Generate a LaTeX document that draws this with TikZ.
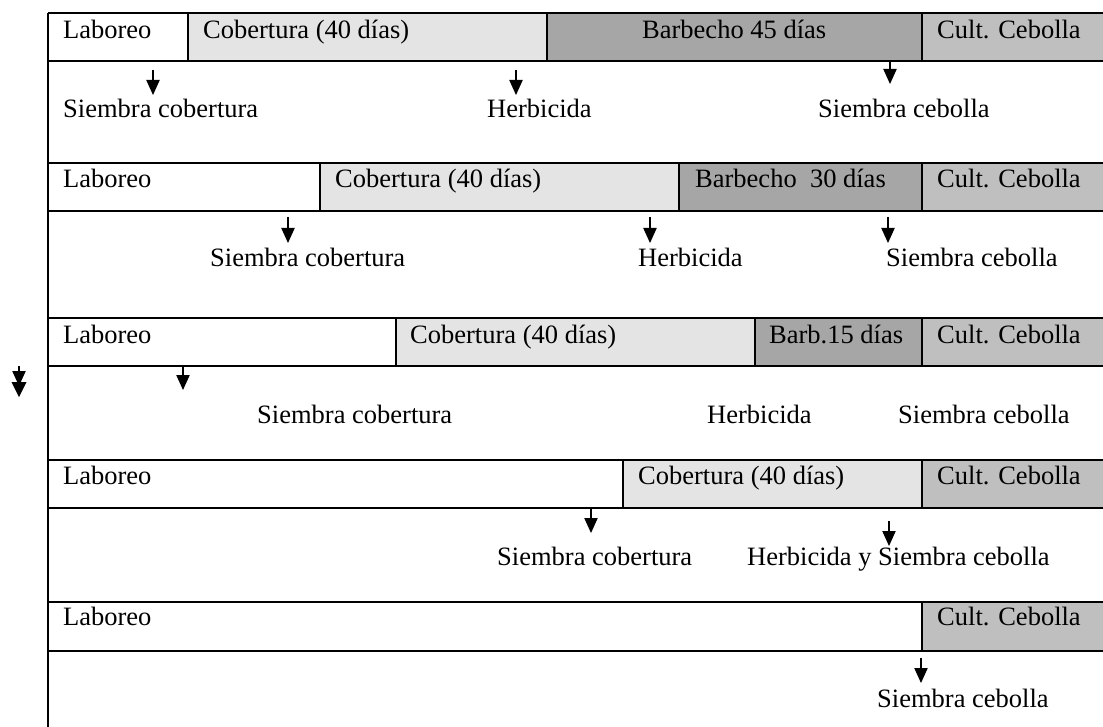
\documentclass[tikz,border=0pt]{standalone}
\usepackage{fontspec}
\setmainfont{Liberation Serif}
\definecolor{cob}{gray}{0.895}
\definecolor{barb}{gray}{0.65}
\definecolor{cult}{gray}{0.75}
\tikzset{
  lbl/.style={anchor=base west,inner sep=0pt,font=\fontsize{26.5}{30}\selectfont},
  rule/.style={line width=2.8pt},
  sep/.style={line width=2.3pt},
  stem/.style={line width=2.2pt},
}
\newcommand\vArr[4]{%
  \coordinate (#1s) at (#2,#3);
  \coordinate (#1e) at (#2,#4);
  \draw[stem] (#1s) -- ([yshift=14pt]#1e);
  \fill ([yshift=15pt,xshift=-6.8pt]#1e) -- ([yshift=15pt,xshift=6.8pt]#1e) -- (#1e) -- cycle;}
\begin{document}
\begin{tikzpicture}[x=1pt,y=-1pt]
\useasboundingbox (0,0) rectangle (1103,727);
% fills
\fill[cob]  (188,13) rectangle (547,61);
\fill[barb] (547,13) rectangle (922,61);
\fill[cult] (922,13) rectangle (1103,61);
\fill[cob]  (320,163) rectangle (679,211);
\fill[barb] (679,163) rectangle (922,211);
\fill[cult] (922,163) rectangle (1103,211);
\fill[cob]  (396,318) rectangle (755,366);
\fill[barb] (755,318) rectangle (922,366);
\fill[cult] (922,318) rectangle (1103,366);
\fill[cob]  (623,460) rectangle (922,508);
\fill[cult] (922,460) rectangle (1103,508);
\fill[cult] (922,602) rectangle (1103,651);
% horizontal rules
\foreach \y in {13,61,163,211,318,366,460,508,602,651}
  \draw[rule] (48,\y) -- (1103,\y);
% left border
\draw[rule] (48,13) -- (48,727);
% separators
\foreach \x/\a/\b in {188/13/61,547/13/61,922/13/61,
  320/163/211,679/163/211,922/163/211,
  396/318/366,755/318/366,922/318/366,
  623/460/508,922/460/508,922/602/651}
  \draw[sep] (\x,\a) -- (\x,\b);
% row 1
\node[lbl] (l1)  at (63,39) {Laboreo};
\node[lbl] (c1)  at (203,39) {Cobertura (40 días)};
\node[lbl] (b1)  at (642,39) {Barbecho 45 días};
\node[lbl] (k1)  at (937,39) {Cult. Cebolla};
\node[lbl] (sc1) at (63,118) {Siembra cobertura};
\node[lbl] (h1)  at (487,118) {Herbicida};
\node[lbl] (se1) at (818,118) {Siembra cebolla};
% row 2
\node[lbl] (l2)  at (63,188) {Laboreo};
\node[lbl] (c2)  at (335,188) {Cobertura (40 días)};
\node[lbl] (b2)  at (695,188) {Barbecho\ \ 30 días};
\node[lbl] (k2)  at (937,188) {Cult. Cebolla};
\node[lbl] (sc2) at (210,267) {Siembra cobertura};
\node[lbl] (h2)  at (638,267) {Herbicida};
\node[lbl] (se2) at (886,267) {Siembra cebolla};
% row 3
\node[lbl] (l3)  at (63,343) {Laboreo};
\node[lbl] (c3)  at (410,343) {Cobertura (40 días)};
\node[lbl] (b3)  at (769,343) {Barb.15 días};
\node[lbl] (k3)  at (937,343) {Cult. Cebolla};
\node[lbl] (sc3) at (257,423) {Siembra cobertura};
\node[lbl] (h3)  at (707,423) {Herbicida};
\node[lbl] (se3) at (898,423) {Siembra cebolla};
% row 4
\node[lbl] (l4)  at (63,484) {Laboreo};
\node[lbl] (c4)  at (638,484) {Cobertura (40 días)};
\node[lbl] (k4)  at (937,484) {Cult. Cebolla};
\node[lbl] (sc4) at (497,565) {Siembra cobertura};
\node[lbl] (hs4) at (747,565) {Herbicida y Siembra cebolla};
% row 5
\node[lbl] (l5)  at (63,625) {Laboreo};
\node[lbl] (k5)  at (937,625) {Cult. Cebolla};
\node[lbl] (se5) at (877,707) {Siembra cebolla};
% arrows
\vArr{a1}{153}{70}{95}
\vArr{a2}{516}{70}{95}
\vArr{a3}{890}{61}{84}
\vArr{a4}{288}{217}{243}
\vArr{a5}{650}{217}{243}
\vArr{a6}{888}{217}{243}
\vArr{a7}{183}{366}{390}
\vArr{a9}{591}{508}{533}
\vArr{a10}{889}{521}{546}
\vArr{a11}{921}{658}{683}
% left double-headed arrow
\vArr{a8}{19}{366}{386}
\coordinate (a8f) at (19,397);
\fill ([yshift=15pt,xshift=-7.5pt]a8f) -- ([yshift=15pt,xshift=7.5pt]a8f) -- (a8f) -- cycle;
\end{tikzpicture}
\end{document}
